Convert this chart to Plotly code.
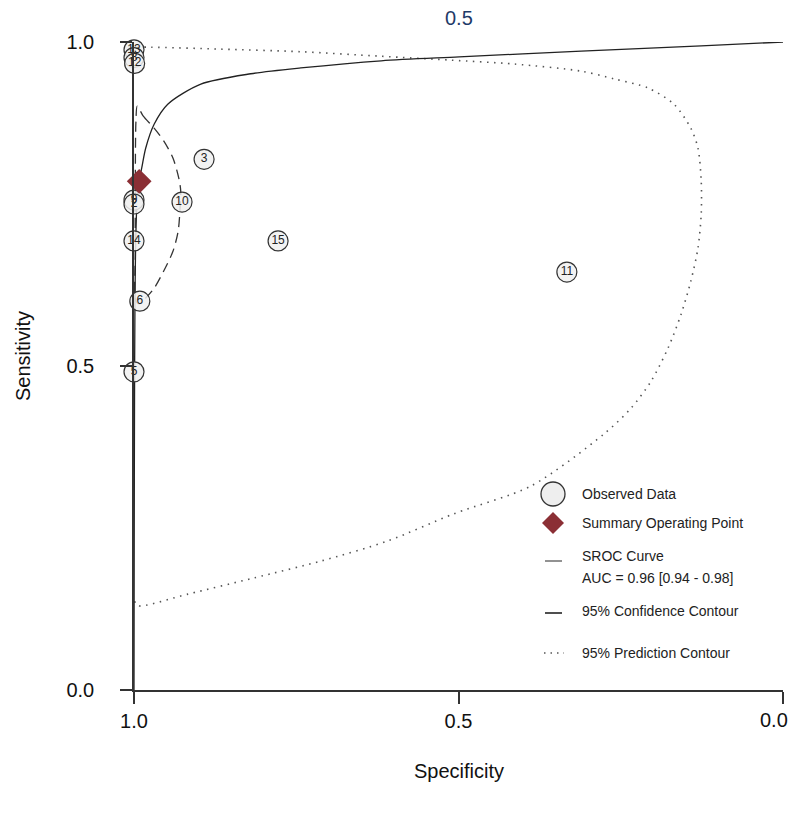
import plotly.graph_objects as go

# ---- Data ----
study_labels = ["13", "8", "12", "3", "9", "2", "10", "14", "15", "11", "6", "5"]
study_spec = [1.000, 1.000, 0.999, 0.892, 1.000, 1.000, 0.926, 1.000, 0.778, 0.333, 0.991, 1.000]
study_sens = [0.988, 0.976, 0.967, 0.819, 0.756, 0.750, 0.753, 0.693, 0.693, 0.645, 0.600, 0.491]

summary_spec = [0.992]
summary_sens = [0.785]

sroc_spec = [0.000, 0.126, 0.311, 0.499, 0.619, 0.743, 0.820, 0.897, 0.948, 0.969,
             0.982, 0.988, 0.994, 0.997, 0.9985, 0.9992, 0.9997, 1.000]
sroc_sens = [1.000, 0.994, 0.986, 0.977, 0.971, 0.960, 0.951, 0.935, 0.904, 0.873,
             0.836, 0.806, 0.775, 0.708, 0.600, 0.446, 0.215, 0.000]

conf_spec = [0.995, 0.986, 0.969, 0.954, 0.940, 0.931, 0.928, 0.929, 0.932, 0.940,
             0.954, 0.969, 0.982, 0.992, 0.997, 0.998, 0.998, 0.997, 0.995]
conf_sens = [0.901, 0.886, 0.867, 0.847, 0.821, 0.790, 0.770, 0.744, 0.708, 0.677,
             0.647, 0.620, 0.605, 0.596, 0.600, 0.677, 0.785, 0.878, 0.901]

pred_spec = [0.999, 0.994, 0.917, 0.815, 0.712, 0.609, 0.507, 0.388, 0.276, 0.234,
             0.203, 0.177, 0.157, 0.142, 0.131, 0.126, 0.126, 0.131, 0.142, 0.168,
             0.208, 0.260, 0.311, 0.414, 0.512, 0.619, 0.743, 0.866, 0.974, 0.998]
pred_sens = [0.137, 0.130, 0.148, 0.173, 0.199, 0.230, 0.272, 0.315, 0.395, 0.435,
             0.477, 0.528, 0.580, 0.631, 0.682, 0.735, 0.785, 0.836, 0.867, 0.904,
             0.929, 0.943, 0.955, 0.966, 0.972, 0.978, 0.985, 0.989, 0.992, 0.992]

tick_vals = [0.0, 0.5, 1.0]
y_tick_text = ["0.0", "0.5", "1.0"]
x_tick_text = ["", "0.5", "1.0"]   # the "0.0" at the right edge is placed as an annotation
x_edge_label = "0.0"

FONT = "Liberation Sans, Arial, sans-serif"
MAROON = "#8b2f35"

fig = go.Figure()

fig.add_trace(go.Scatter(x=pred_spec, y=pred_sens, mode="lines",
                         line=dict(color="#555555", width=1.6, dash="1.5px,5.5px",
                                   shape="spline", smoothing=0.8),
                         cliponaxis=False, showlegend=False, hoverinfo="skip"))
fig.add_trace(go.Scatter(x=conf_spec, y=conf_sens, mode="lines",
                         line=dict(color="#333333", width=1.3, dash="10px,6px",
                                   shape="spline", smoothing=0.8),
                         cliponaxis=False, showlegend=False, hoverinfo="skip"))
fig.add_trace(go.Scatter(x=sroc_spec, y=sroc_sens, mode="lines",
                         line=dict(color="#222222", width=1.3, shape="spline", smoothing=0.8),
                         cliponaxis=False, showlegend=False, hoverinfo="skip"))
fig.add_trace(go.Scatter(x=study_spec, y=study_sens, mode="markers+text",
                         text=study_labels, textposition="middle center",
                         textfont=dict(family=FONT, size=12, color="#222222"),
                         marker=dict(symbol="circle", size=20, color="rgba(240,240,240,0.85)",
                                     line=dict(color="#333333", width=1.2)),
                         cliponaxis=False, showlegend=False))
fig.add_trace(go.Scatter(x=summary_spec, y=summary_sens, mode="markers",
                         marker=dict(symbol="diamond", size=19, color=MAROON,
                                     line=dict(width=0)),
                         cliponaxis=False, showlegend=False))

# ---- Custom legend (paper coords; plot area = x 133..782, y 41..689 px in the window) ----
def px_x(p):
    return (p - 133) / 649.0

def px_y(p):
    return (689 - p) / 648.0

shapes = []
shapes.append(dict(type="circle", xref="paper", yref="paper", xsizemode="pixel", ysizemode="pixel",
                   xanchor=px_x(552), yanchor=px_y(493), x0=-12, x1=12, y0=-12, y1=12,
                   fillcolor="#eeeeee", line=dict(color="#333333", width=1.3)))
shapes.append(dict(type="path", xref="paper", yref="paper", xsizemode="pixel", ysizemode="pixel",
                   xanchor=px_x(552), yanchor=px_y(522),
                   path="M 0 11 L 11 0 L 0 -11 L -11 0 Z",
                   fillcolor=MAROON, line=dict(width=0)))
shapes.append(dict(type="line", xref="paper", yref="paper",
                   x0=px_x(544), x1=px_x(561), y0=px_y(560), y1=px_y(560),
                   line=dict(color="#777777", width=1.6)))
shapes.append(dict(type="line", xref="paper", yref="paper",
                   x0=px_x(544), x1=px_x(561), y0=px_y(612), y1=px_y(612),
                   line=dict(color="#222222", width=1.6)))
shapes.append(dict(type="line", xref="paper", yref="paper",
                   x0=px_x(543), x1=px_x(563), y0=px_y(652), y1=px_y(652),
                   line=dict(color="#555555", width=1.5, dash="1.5px,5px")))

legend_items = [
    ("Observed Data", 493),
    ("Summary Operating Point", 522),
    ("SROC Curve", 555),
    ("AUC = 0.96 [0.94 - 0.98]", 577),
    ("95% Confidence Contour", 610),
    ("95% Prediction Contour", 652),
]
annotations = []
for txt, py in legend_items:
    annotations.append(dict(text=txt, xref="paper", yref="paper", x=px_x(579), y=px_y(py),
                            xanchor="left", yanchor="middle", showarrow=False,
                            font=dict(family=FONT, size=14, color="#222222")))

annotations.append(dict(text=x_edge_label, xref="paper", yref="paper", x=px_x(789), y=px_y(719),
                        xanchor="right", yanchor="middle", showarrow=False,
                        font=dict(family=FONT, size=20, color="#111111")))
annotations.append(dict(text="0.5", xref="paper", yref="paper", x=0.5, y=px_y(17),
                        xanchor="center", yanchor="middle", showarrow=False,
                        font=dict(family=FONT, size=20, color="#1f3a68")))
annotations.append(dict(text="Sensitivity", xref="paper", yref="paper", x=px_x(22), y=px_y(355),
                        xanchor="center", yanchor="middle", showarrow=False, textangle=-90,
                        font=dict(family=FONT, size=20, color="#111111")))
annotations.append(dict(text="Specificity", xref="paper", yref="paper", x=0.5, y=px_y(770),
                        xanchor="center", yanchor="middle", showarrow=False,
                        font=dict(family=FONT, size=20, color="#111111")))

# page body adds ~7px offset; margins compensate so plot area lands at 133..782 x 41..689
fig.update_layout(
    width=790, height=787,
    margin=dict(l=126, r=15, t=34, b=105, autoexpand=False),
    paper_bgcolor="white", plot_bgcolor="white",
    showlegend=False,
    shapes=shapes, annotations=annotations,
    font=dict(family=FONT, color="#111111"),
)
fig.update_xaxes(range=[1.0, 0.0], tickvals=tick_vals, ticktext=x_tick_text, automargin=False,
                 showgrid=False, zeroline=False, showline=True, linecolor="#333333", linewidth=1.5,
                 ticks="outside", ticklen=12, tickwidth=1.5, tickcolor="#333333",
                 tickfont=dict(family=FONT, size=20, color="#111111"))
fig.update_yaxes(range=[0.0, 1.0], tickvals=tick_vals, ticktext=y_tick_text, automargin=False,
                 showgrid=False, zeroline=False, showline=True, linecolor="#333333", linewidth=1.5,
                 ticks="outside", ticklen=12, tickwidth=1.5, tickcolor="#333333",
                 ticklabelstandoff=22,
                 tickfont=dict(family=FONT, size=20, color="#111111"))

fig.write_html("out.html")
